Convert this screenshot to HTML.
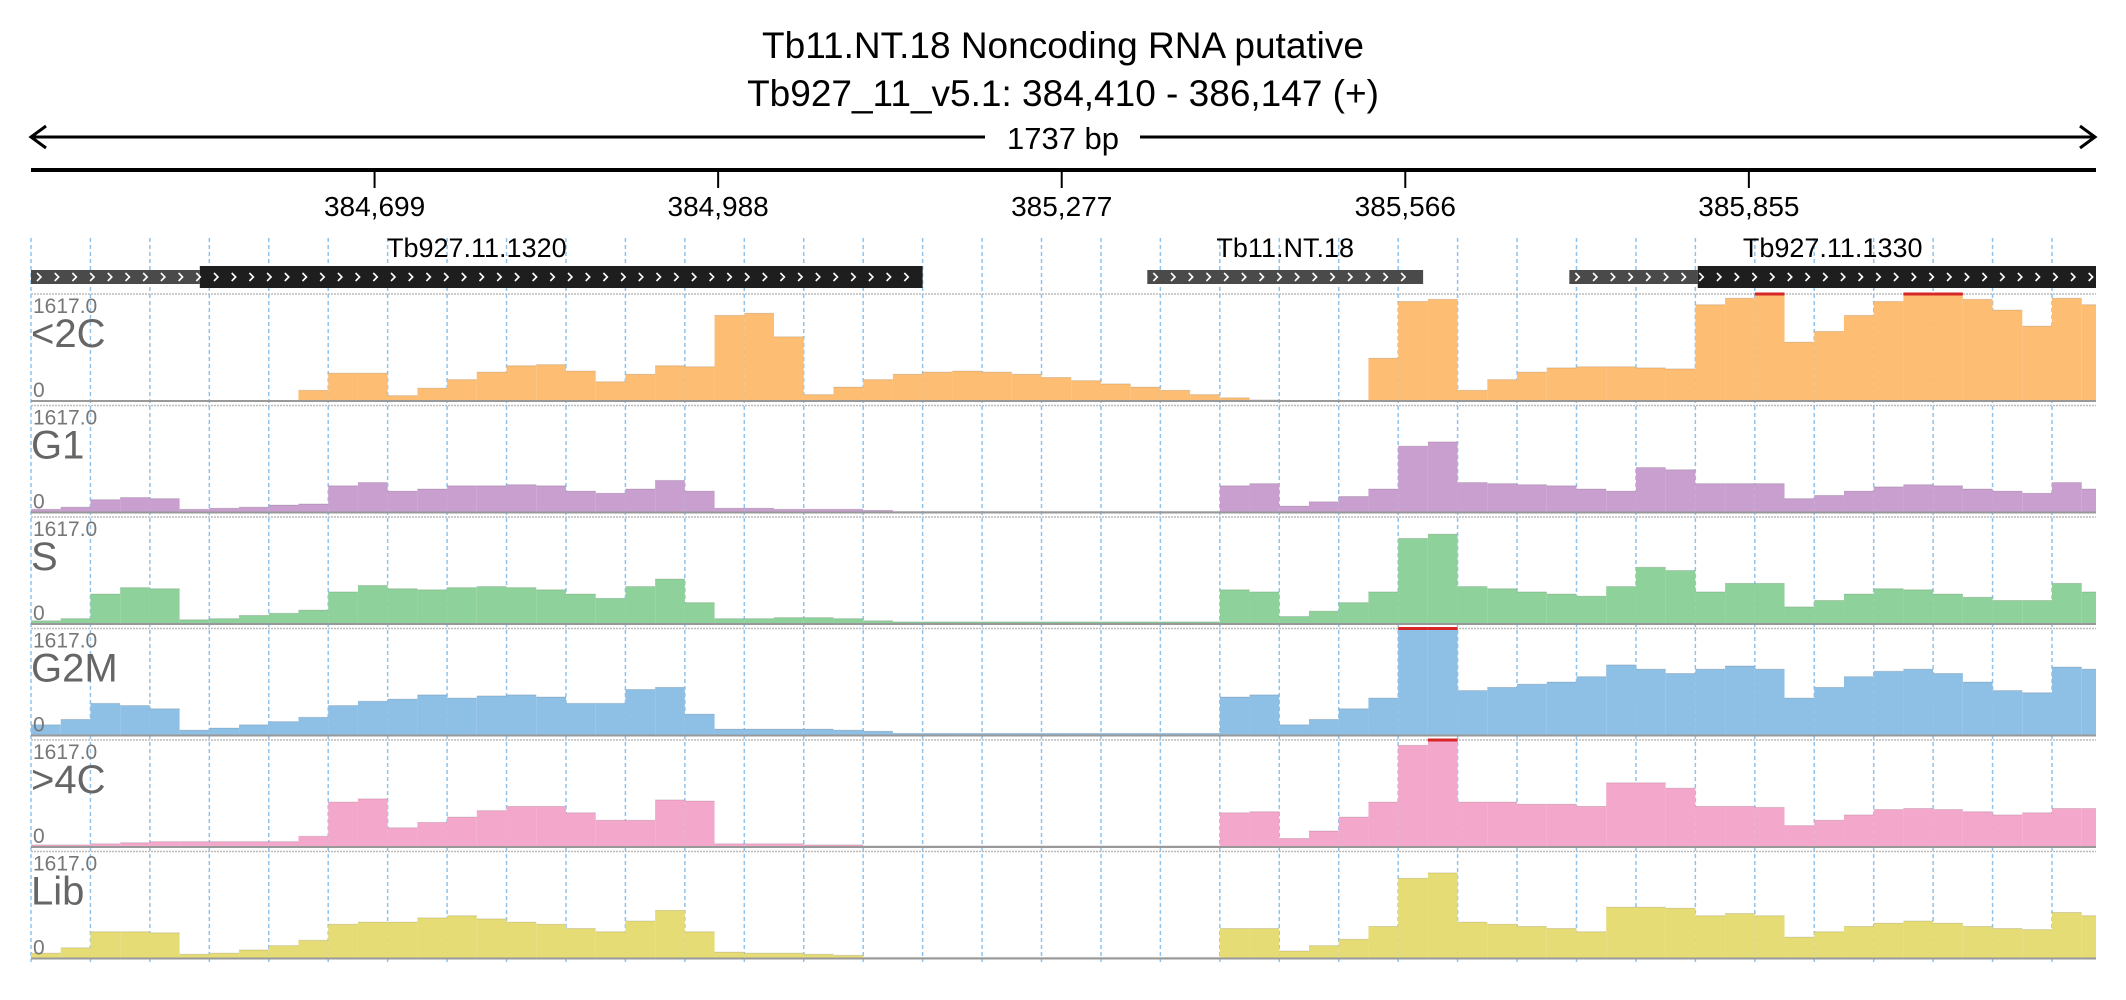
<!DOCTYPE html>
<html><head><meta charset="utf-8">
<style>
html,body{margin:0;padding:0;background:#fff;}
svg{display:block;font-family:"Liberation Sans",sans-serif;}
</style></head>
<body>
<svg id="chart" width="2126" height="1000" viewBox="0 0 2126 1000">
  <text x="1063" y="58" font-size="37" text-anchor="middle" fill="#000">Tb11.NT.18  Noncoding RNA  putative</text>
  <text x="1063" y="106" font-size="37" text-anchor="middle" fill="#000">Tb927_11_v5.1: 384,410 - 386,147 (+)</text>
  <g>
    <line x1="32" y1="137" x2="985" y2="137" stroke="#000" stroke-width="3"/>
    <line x1="1140" y1="137" x2="2094" y2="137" stroke="#000" stroke-width="3"/>
    <polyline points="46,126 31,137 46,148" fill="none" stroke="#000" stroke-width="3"/>
    <polyline points="2080,126 2095,137 2080,148" fill="none" stroke="#000" stroke-width="3"/>
    <text x="1063" y="149" font-size="31" text-anchor="middle">1737 bp</text>
  </g>
  <line x1="31" y1="170" x2="2096" y2="170" stroke="#000" stroke-width="4"/>
  <g id="ticks"></g>
  <g id="grid"></g>
  <g id="genes"></g>
  <g id="tracks"></g>
</svg>
<script>
const NS="http://www.w3.org/2000/svg";
const startBp=384410, endBp=386147, binSize=25;
const tickValues=[384699,384988,385277,385566,385855];
const tickLabels=["384,699","384,988","385,277","385,566","385,855"];
const trackNames=["<2C","G1","S","G2M",">4C","Lib"];
const trackMax=1617.0;
const trackColors=["#fdbd72","#c89fce","#8fd19a","#8ebfe5","#f3a7ca","#e6dc76"];
const geneNames=["Tb927.11.1320","Tb11.NT.18","Tb927.11.1330"];
const geneStarts=[384410,385349,385704];
const geneEnds=[385160,385581,386147];
const cdsStarts=[384552,null,385812];
const v2C=[0,0,0,0,0,0,0,0,0,0.1,0.26,0.26,0.05,0.12,0.2,0.27,0.33,0.34,0.28,0.18,0.25,0.33,0.32,0.8,0.82,0.6,0.06,0.13,0.2,0.25,0.27,0.28,0.27,0.25,0.22,0.19,0.16,0.13,0.1,0.06,0.03,0.01,0,0,0,0.4,0.93,0.95,0.1,0.2,0.27,0.31,0.32,0.32,0.31,0.3,0.9,0.96,1,0.55,0.65,0.8,0.93,1,1,0.95,0.85,0.7,0.96,0.9];
const vG1=[0.03,0.05,0.12,0.14,0.13,0.03,0.04,0.05,0.07,0.08,0.25,0.28,0.2,0.22,0.25,0.25,0.26,0.25,0.2,0.18,0.22,0.3,0.2,0.04,0.04,0.03,0.03,0.03,0.02,0.01,0.01,0.01,0.01,0.01,0.01,0.01,0.01,0.01,0.01,0.01,0.25,0.27,0.06,0.1,0.15,0.22,0.62,0.66,0.28,0.27,0.26,0.25,0.22,0.2,0.42,0.4,0.27,0.27,0.27,0.13,0.16,0.2,0.24,0.26,0.25,0.22,0.2,0.18,0.28,0.22];
const vS=[0.03,0.05,0.28,0.34,0.33,0.04,0.05,0.08,0.1,0.13,0.3,0.36,0.33,0.32,0.34,0.35,0.34,0.32,0.28,0.24,0.35,0.42,0.2,0.05,0.05,0.06,0.06,0.05,0.03,0.02,0.02,0.02,0.02,0.02,0.02,0.02,0.02,0.02,0.02,0.02,0.32,0.3,0.07,0.12,0.2,0.3,0.8,0.84,0.35,0.33,0.3,0.28,0.26,0.35,0.53,0.5,0.3,0.38,0.38,0.16,0.22,0.28,0.33,0.32,0.28,0.25,0.22,0.22,0.38,0.3];
const vG2M=[0.1,0.15,0.3,0.28,0.25,0.05,0.07,0.1,0.13,0.17,0.28,0.32,0.34,0.38,0.35,0.37,0.38,0.36,0.3,0.3,0.43,0.45,0.2,0.06,0.06,0.06,0.06,0.05,0.04,0.02,0.02,0.02,0.02,0.02,0.02,0.02,0.02,0.02,0.02,0.02,0.36,0.38,0.1,0.15,0.25,0.35,1,1,0.42,0.45,0.48,0.5,0.55,0.66,0.62,0.58,0.62,0.65,0.62,0.35,0.45,0.55,0.6,0.62,0.58,0.5,0.42,0.4,0.64,0.62];
const v4C=[0.02,0.02,0.03,0.04,0.05,0.05,0.05,0.05,0.05,0.1,0.42,0.45,0.18,0.23,0.28,0.34,0.38,0.38,0.32,0.25,0.25,0.44,0.43,0.03,0.03,0.03,0.02,0.02,0.01,0.01,0.01,0.01,0.01,0.01,0.01,0.01,0.01,0.01,0.01,0.01,0.32,0.33,0.08,0.15,0.28,0.42,0.95,1,0.42,0.42,0.4,0.4,0.38,0.6,0.6,0.55,0.38,0.38,0.37,0.2,0.25,0.3,0.35,0.36,0.35,0.33,0.3,0.32,0.36,0.36];
const vLib=[0.05,0.1,0.25,0.25,0.24,0.04,0.05,0.08,0.12,0.17,0.32,0.34,0.34,0.38,0.4,0.37,0.34,0.32,0.28,0.25,0.35,0.45,0.25,0.06,0.05,0.05,0.04,0.03,0.01,0.01,0.01,0.01,0.01,0.01,0.01,0.01,0.01,0.01,0.01,0.01,0.28,0.28,0.07,0.12,0.18,0.3,0.75,0.8,0.34,0.32,0.3,0.28,0.25,0.48,0.48,0.47,0.4,0.42,0.4,0.2,0.25,0.3,0.33,0.35,0.33,0.3,0.28,0.27,0.43,0.4];
const trackValues=[v2C,vG1,vS,vG2M,v4C,vLib];

const X0=31,X1=2096;
function xs(bp){return X0+(bp-startBp)*(X1-X0)/(endBp-startBp);}
function mk(tag,attrs,parent){const e=document.createElementNS(NS,tag);for(const k in attrs)e.setAttribute(k,attrs[k]);parent.appendChild(e);return e;}

const ticksG=document.getElementById('ticks');
tickValues.forEach((t,i)=>{
  const l=mk('line',{x1:xs(t),x2:xs(t),y1:170,y2:188,stroke:'#000','stroke-width':2},ticksG);
  
  
  const tx=mk('text',{x:xs(t),y:216,'font-size':28,'text-anchor':'middle'},ticksG);
  tx.textContent=tickLabels[i];
  
  
});

const gridG=document.getElementById('grid');
for(let bp=startBp;bp<=endBp;bp+=50){
  const l=mk('line',{x1:xs(bp),x2:xs(bp),y1:238,y2:962,stroke:'#8ec3ee','stroke-width':1.5,'stroke-dasharray':'4,3'},gridG);
  
  
}

const genesG=document.getElementById('genes');
function chevrons(x1,x2,y,g){
  let s='';
  for(let x=x1+6;x<x2-6;x+=17.7){s+=`M${x},${y-4} L${x+4},${y} L${x},${y+4} `;}
  mk('path',{d:s,stroke:'#fff','stroke-width':1.6,fill:'none'},g);
}
geneNames.forEach((n,i)=>{
  const g=mk('g',{},genesG);
  
  
  const a=xs(geneStarts[i]),b=xs(geneEnds[i]);
  const c=cdsStarts[i]!==null?xs(cdsStarts[i]):b;
  mk('rect',{x:a,y:270,width:c-a,height:14,fill:'#4a4a4a'},g);
  if(cdsStarts[i]!==null) mk('rect',{x:c,y:266,width:b-c,height:22,fill:'#1e1e1e'},g);
  chevrons(a,b,277,g);
  const t=mk('text',{x:(a+b)/2,y:257,'font-size':27,'text-anchor':'middle'},g);
  t.textContent=n;
});

const tracksG=document.getElementById('tracks');
trackNames.forEach((name,k)=>{
  const top=294+k*111.5, base=top+107, h=base-top;
  const g=mk('g',{},tracksG);
  
  
  mk('line',{x1:X0,x2:X1,y1:top,y2:top,stroke:'#bbb','stroke-width':1.5,'stroke-dasharray':'2,1'},g);
  const vals=trackValues[k];
  vals.forEach((v,i)=>{
    const b0=startBp+i*binSize, b1=Math.min(b0+binSize,endBp);
    if(b0>=endBp)return;
    const xa=xs(b0), xb=xs(b1), y=base-v*h;
    const r=mk('rect',{x:xa,y:y,width:Math.max(0,xb-xa),height:base-y,fill:trackColors[k]},g);
    
    
    mk('line',{x1:xa,x2:xb,y1:y,y2:y,stroke:v>=0.995?'#d62728':'rgba(0,0,0,0.12)','stroke-width':v>=0.995?3:1},g);
  });
  mk('line',{x1:X0,x2:X1,y1:base,y2:base,stroke:'#999','stroke-width':2},g);
  const mx=mk('text',{x:33,y:top+19,'font-size':21,fill:'#777'},g);
  mx.textContent=trackMax.toFixed(1);
  
  
  const nm=mk('text',{x:31,y:top+53,'font-size':40,fill:'#666'},g);
  nm.textContent=name;
  
  
  const z=mk('text',{x:33,y:base-4,'font-size':21,fill:'#777'},g);
  z.textContent='0';
  
  
});
</script>
</body></html>
